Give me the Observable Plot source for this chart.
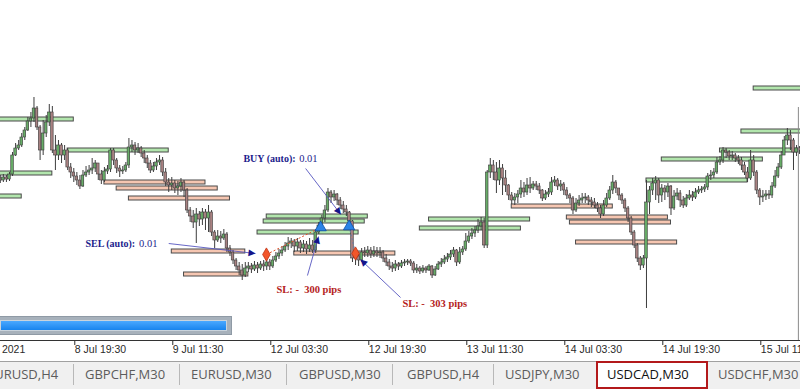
<!DOCTYPE html>
<html><head><meta charset="utf-8">
<script src="https://cdn.jsdelivr.net/npm/d3@7"></script>
<script src="https://cdn.jsdelivr.net/npm/@observablehq/plot@0.6"></script>
<style>
html,body{margin:0;padding:0;background:#fff;overflow:hidden;}
#wrap{position:relative;width:800px;height:389px;overflow:hidden;background:#fff;}
#chart{position:absolute;left:0;top:0;width:800px;height:361px;}
#progress{position:absolute;left:-4px;top:316px;width:236px;height:19px;background:#a7b1bb;box-sizing:border-box;border:1px solid #8f9aa5;z-index:2;}
#progress div{position:absolute;left:3px;top:3px;width:227px;height:11px;background:linear-gradient(#4aa8ff,#1884ee);border:1px solid #c9d3dc;box-sizing:border-box;}
#tabs{position:absolute;left:0;top:361px;width:800px;height:28px;background:#f0f0f0;border-top:1px solid #a0a0a0;box-sizing:border-box;font-family:"Open Sans",sans-serif;font-size:13px;z-index:2;}
.tab{position:absolute;top:0;line-height:24px;color:#5c5c5c;white-space:nowrap;}
.sep{position:absolute;top:2px;width:1px;height:21px;background:#b8b8b8;}
.act{position:absolute;top:-1px;height:28px;box-sizing:border-box;border:2px solid #b3191b;background:#fff;}
</style></head>
<body><div id="wrap"><div id="chart"></div><div id="progress"><div></div></div><div id="tabs"></div></div>
<script>
// ---- USDCAD M30 candles (price in pips above 1.2300), bar index 0 = 8 Jul 19:30 ----
const firstBar = -24;
const firstOpen = 222;
const close = [
220,223,221,226,245,252,255,263,270,279,282,292,273,250,267,278,288,250,245,255,245,250,233,228,
224,220,214,225,228,230,232,237,226,220,
229,231,250,240,232,229,230,235,253,255,
250,252,247,242,237,230,234,238,240,228,
218,215,217,212,214,218,210,190,184,178,
186,181,188,182,188,168,160,164,162,166,
152,148,140,134,130,125,132,134,131,135,
132,136,134,138,134,140,144,147,150,154,
157,159,154,158,152,156,151,155,150,168,
175,182,190,208,203,206,200,195,191,188,
179,142,144,140,148,147,150,146,149,147,
148,142,138,134,132,136,134,137,138,139,
137,130,132,129,132,130,134,125,131,136,
138,141,143,146,150,138,148,151,159,164,
167,170,174,178,155,228,235,228,220,232,
222,215,205,200,203,206,212,208,215,212,
216,214,210,202,206,208,218,220,214,216,
210,205,202,190,197,200,202,203,200,198,
195,192,186,195,202,210,218,212,205,200,
192,182,168,155,142,135,142,198,210,217,
220,205,212,208,214,192,204,207,200,195,
202,205,203,208,210,211,213,224,225,228,
238,240,250,248,244,245,242,240,235,228,
222,240,228,210,203,204,206,205,214,224,
233,245,260,265,260,248,252,250];
const high = [
225,226,225,228,248,257,260,267,273,283,288,303,294,275,280,285,296,294,265,260,257,255,252,237,
232,228,225,230,234,235,242,240,237,230,
233,235,252,252,242,235,234,238,262,260,
258,257,254,250,245,240,238,242,245,243,
232,222,223,220,219,222,220,212,193,190,
192,189,192,191,195,190,170,170,169,171,
168,155,150,142,138,136,138,138,137,139,
138,139,140,143,141,144,148,151,154,158,
163,162,161,162,160,160,159,162,160,171,
178,185,195,212,210,210,207,203,199,195,
189,180,150,148,152,153,154,153,154,153,
153,150,146,141,138,140,138,140,141,141,
141,139,136,134,135,134,136,135,134,139,
142,145,147,150,153,151,153,154,167,169,
172,174,181,183,182,230,242,240,238,240,
236,230,216,208,207,210,220,218,222,223,
219,219,217,211,210,212,223,224,222,220,
218,213,207,204,202,205,207,207,205,203,
202,198,195,200,207,214,225,220,212,207,
202,194,184,170,157,144,145,220,214,222,
224,222,216,215,217,215,210,212,210,204,
206,210,209,212,214,214,216,227,230,232,
243,244,253,252,250,249,247,245,243,238,
233,250,245,230,212,210,210,210,218,230,
237,249,264,272,270,262,255,254];
const low = [
217,218,218,219,224,244,250,253,260,269,273,278,270,240,245,263,274,247,230,240,237,240,230,222,
218,215,211,213,223,225,226,228,220,216,
218,226,228,235,227,223,226,228,232,248,
245,247,243,237,232,227,228,230,235,224,
214,208,210,207,205,208,203,187,178,172,
157,174,175,170,168,164,152,158,157,160,
148,144,136,130,125,120,123,128,127,129,
127,130,129,130,130,132,138,141,144,148,
150,152,148,149,147,148,146,148,147,147,
166,172,178,188,197,199,195,191,187,184,
176,138,135,134,138,143,143,142,143,143,
142,138,134,130,128,129,130,132,134,135,
134,127,127,126,127,127,129,122,124,130,
133,136,138,140,143,134,136,145,149,157,
161,163,167,170,152,152,222,220,207,215,
205,208,200,196,195,197,202,203,205,207,
210,210,206,199,200,203,205,214,210,209,
205,201,197,186,188,194,197,197,195,193,
192,188,182,184,193,200,206,207,200,196,
188,178,165,152,138,130,132,92,186,205,
200,197,198,200,203,185,190,200,193,192,
193,200,199,201,206,207,208,210,220,222,
226,235,237,242,240,240,238,236,230,225,
218,220,224,206,195,198,200,201,202,212,
222,231,245,255,250,230,244,246];

// ---- time axis ----
const tickBars = [-32, 0, 32, 64, 96, 128, 160, 192, 224];
const tickLabels = ["8 Jul 2021","8 Jul 19:30","9 Jul 11:30","12 Jul 03:30","12 Jul 19:30","13 Jul 11:30","14 Jul 03:30","14 Jul 19:30","15 Jul 11:30"];

// ---- supply / demand zones ----
const zoneType = ["buy","buy","buy","buy","sell","sell","sell","sell","sell","buy","buy","buy","sell","buy","buy","sell","sell","sell","sell","buy","buy","buy","buy","buy"];
const zoneFrom = [-26,-26,-26,-2,10,14,18,32,36,63,62,60,72,116,113,143,161,162,164,187,192,211,218,222];
const zoneTo   = [0,-7,-17,31,43,47,51,56,57,96,95,93,105,149,146,176,194,195,197,220,225,244,251,255];
const zoneLow  = [279,225,202,248,216,210,200,147,124,182,177,166,145,179,170,192,181,176,156,218,239,248,267,310];
const zoneHigh = [283,229,206,252,220,214,204,151,128,186,181,170,149,183,174,196,185,180,160,222,243,252,271,314];

// ---- trades ----
const tradeBar   = [62.9, 80.6, 89.9, 92.0];
const tradePrice = [146, 173, 174, 147];
const tradeSide  = ["sell","buy","buy","sell"];

// ---- annotations ----
const noteText  = ["BUY (auto):","0.01","SEL (auto):","0.01","SL: -\u00a0 300 pips","SL: -\u00a0 303 pips"];
const noteBar   = [55.4, 73.6, 3.8, 21.3, 66.2, 107.3];
const notePrice = [242, 242, 157, 157, 111, 97];
const noteBold  = [true, false, true, false, true, true];
const noteKind  = ["order","order","order","order","sl","sl"];
const arrowFromBar   = [31.0, 75.7, 76.3, 106.7];
const arrowFromPrice = [157, 232, 125, 103];
const arrowToBar     = [59.3, 87.2, 79.9, 93.6];
const arrowToPrice   = [147, 186, 164, 141];

// ---- terminal tabs ----
const tabNames = ["EURUSD,H4","GBPCHF,M30","EURUSD,M30","GBPUSD,M30","GBPUSD,H4","USDJPY,M30","USDCAD,M30","USDCHF,M30"];
const activeTab = "USDCAD,M30";

// ---------- build ----------
const candles = close.map((c, k) => ({bar: firstBar + k, open: k ? close[k-1] : firstOpen, close: c, high: high[k], low: low[k]}));
const zones = zoneType.map((t, k) => ({t, x1: zoneFrom[k], x2: zoneTo[k], y1: zoneLow[k], y2: zoneHigh[k]}));
const trades = tradeBar.map((b, k) => ({bar: b, price: tradePrice[k], side: tradeSide[k]}));
const notes = noteText.map((t, k) => ({t, bar: noteBar[k], price: notePrice[k], bold: noteBold[k], kind: noteKind[k]}));
const arrows = arrowFromBar.map((b, k) => ({x1: b, y1: arrowFromPrice[k], x2: arrowToBar[k], y2: arrowToPrice[k]}));
const labelOf = new Map(tickBars.map((b, k) => [b, tickLabels[k]]));

const xDomain = [-23.93, 237.29];
const yDomain = [60, 400];
const pxPerBar = 800 / (xDomain[1] - xDomain[0]);
const pxPerUnit = 340 / (yDomain[1] - yDomain[0]);
const heads = arrows.map(a => {
  const th = Math.atan2((a.x2 - a.x1) * pxPerBar, (a.y2 - a.y1) * pxPerUnit);
  return {bar: a.x2 - 3 * Math.sin(th) / pxPerBar, price: a.y2 - 3 * Math.cos(th) / pxPerUnit, angle: th * 180 / Math.PI};
});
const noteFont = "Liberation Serif, Times New Roman, serif";
const noteFill = d => d.kind === "sl" ? "#b51d1d" : "#1d1d8c";

const plot = Plot.plot({
  width: 800, height: 361,
  marginLeft: 0, marginRight: 0, marginTop: 0, marginBottom: 21,
  x: {domain: xDomain, axis: null},
  y: {domain: yDomain, axis: null},
  style: {background: "transparent", fontFamily: "Liberation Sans, Arial, sans-serif", fontSize: "10.5px"},
  marks: [
    Plot.rect(zones, {x1: "x1", x2: "x2", y1: "y1", y2: "y2", fill: d => d.t === "buy" ? "#b2e6ad" : "#f6c6b1", stroke: "#4a4a4a", strokeWidth: 1}),
    Plot.ruleX(candles, {x: "bar", y1: "low", y2: "high", stroke: "#3d3d3d", strokeWidth: 1}),
    Plot.rect(candles, {x1: d => d.bar - 0.42, x2: d => d.bar + 0.42, y1: "open",
      y2: d => d.close === d.open ? d.open + 0.8 : d.close,
      fill: d => d.close >= d.open ? "#67ac67" : "#a88181", stroke: "#3a3a3a", strokeWidth: 0.6}),
    Plot.ruleX([236.6], {y1: 293, y2: 60, stroke: "#8a8a8a", strokeWidth: 1}),
    Plot.link([trades[0]], {x1: "bar", y1: "price", x2: () => trades[1].bar, y2: () => trades[1].price, stroke: "#e5532a", strokeDasharray: "2,2", strokeWidth: 1}),
    Plot.link([trades[2]], {x1: "bar", y1: "price", x2: () => trades[3].bar, y2: () => trades[3].price, stroke: "#6a7aa8", strokeDasharray: "2,2", strokeWidth: 1}),
    Plot.link(arrows, {x1: "x1", y1: "y1", x2: "x2", y2: "y2", stroke: "#5656c0", strokeWidth: 0.9}),
    Plot.text(heads, {x: "bar", y: "price", text: () => "\u25B2", rotate: "angle", fill: "#14148a", fontSize: 9, fontFamily: "DejaVu Sans"}),
    Plot.dot(trades.filter(d => d.side === "sell"), {x: "bar", y: "price", symbol: "diamond", r: 4, fill: "#f2562a", stroke: "#c03010", strokeWidth: 0.8}),
    Plot.dot(trades.filter(d => d.side === "buy"), {x: "bar", y: "price", symbol: "triangle", r: 4.2, fill: "#2b83e6", stroke: "#0b4fa8", strokeWidth: 0.8}),
    Plot.text(notes.filter(d => d.bold && d.kind === "order"), {x: "bar", y: "price", text: "t", textAnchor: "start", fontFamily: noteFont, fontSize: 10, fontWeight: "bold", fill: noteFill}),
    Plot.text(notes.filter(d => d.bold && d.kind === "sl"), {x: "bar", y: "price", text: "t", textAnchor: "start", fontFamily: noteFont, fontSize: 10.5, fontWeight: "bold", fill: noteFill}),
    Plot.text(notes.filter(d => !d.bold), {x: "bar", y: "price", text: "t", textAnchor: "start", fontFamily: noteFont, fontSize: 10.5, fontWeight: "normal", fill: noteFill}),
    Plot.axisX({ticks: tickBars, tickFormat: d => labelOf.get(d), tickSize: 5, tickPadding: 0, textAnchor: "start", dx: 1, color: "#2a2a2a", fontSize: 10.5}),
    Plot.ruleY([60], {stroke: "#333", strokeWidth: 1})
  ]
});
document.getElementById("chart").appendChild(plot);

// tabs
const tabs = document.getElementById("tabs");
const tabLeft = [-13, 85, 191, 299, 407, 505, 607, 718];
const sepLeft = [73, 179, 286, 392, 493];
sepLeft.forEach(x => { const s = document.createElement("div"); s.className = "sep"; s.style.left = x + "px"; tabs.appendChild(s); });
const act = document.createElement("div"); act.className = "act"; act.style.left = "596px"; act.style.width = "112px"; tabs.appendChild(act);
tabNames.forEach((n, k) => {
  const t = document.createElement("div"); t.className = "tab"; t.textContent = n; t.style.left = tabLeft[k] + "px";
  if (n === activeTab) t.style.color = "#111";
  tabs.appendChild(t);
});
</script></body></html>
